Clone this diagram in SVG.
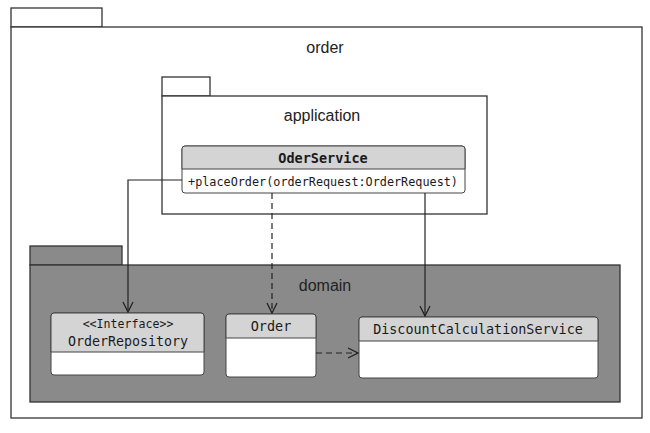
<svg xmlns="http://www.w3.org/2000/svg" width="650" height="433" viewBox="0 0 650 433">
<style>
.pkg{fill:#fff;stroke:#333;stroke-width:1.3}
.dom{fill:#8a8a8a;stroke:#333;stroke-width:1.3}
.lbl{font-family:"Liberation Sans",Arial,sans-serif;font-size:16px;fill:#222;text-anchor:middle}
.cls{fill:#fff;stroke:#444;stroke-width:1}
.hdr{fill:#d4d4d4;stroke:#444;stroke-width:1}
.mono{font-family:"DejaVu Sans Mono","Liberation Mono",monospace;fill:#1a1a1a;text-anchor:middle}
.ln{fill:none;stroke:#222;stroke-width:1.2}
.dash{stroke-dasharray:6,4}
</style>
<defs>
<marker id="open" viewBox="0 0 12 12" refX="11" refY="6" markerWidth="12" markerHeight="12" markerUnits="userSpaceOnUse" orient="auto">
<path d="M1,1 L11,6 L1,11" fill="none" stroke="#222" stroke-width="1.3"/>
</marker>
</defs>
<rect width="650" height="433" fill="#fff"/>
<g id="pkg-order">
<rect class="pkg" x="11" y="8" width="91" height="19"/>
<rect class="pkg" x="11" y="27" width="631" height="391"/>
<text class="lbl" x="325" y="53">order</text>
</g>
<g id="pkg-application">
<rect class="pkg" x="162" y="77" width="48" height="19"/>
<rect class="pkg" x="162" y="96" width="325" height="118"/>
<text class="lbl" x="322" y="121">application</text>
</g>
<g id="pkg-domain">
<rect class="dom" x="30" y="246" width="92" height="19"/>
<rect class="dom" x="30" y="265" width="590" height="137"/>
<text class="lbl" x="325" y="291">domain</text>
</g>
<g id="OderService">
<rect class="cls" x="182" y="146" width="283" height="47" rx="3"/>
<path class="hdr" d="M182,169 V149 a3,3 0 0 1 3,-3 H462 a3,3 0 0 1 3,3 V169 Z"/>
<text class="mono" x="323" y="163" font-size="13.5" font-weight="bold">OderService</text>
<text class="mono" x="323" y="186" font-size="11.8">+placeOrder(orderRequest:OrderRequest)</text>
</g>
<g id="OrderRepository">
<rect class="cls" x="51" y="313" width="153" height="62" rx="3"/>
<path class="hdr" d="M51,352 V316 a3,3 0 0 1 3,-3 H201 a3,3 0 0 1 3,3 V352 Z"/>
<text class="mono" x="128" y="328" font-size="11.6">&lt;&lt;Interface&gt;&gt;</text>
<text class="mono" x="128" y="346" font-size="13.3">OrderRepository</text>
</g>
<g id="Order">
<rect class="cls" x="226" y="314" width="90" height="63" rx="3"/>
<path class="hdr" d="M226,338 V317 a3,3 0 0 1 3,-3 H313 a3,3 0 0 1 3,3 V338 Z"/>
<text class="mono" x="271" y="331" font-size="13.5">Order</text>
</g>
<g id="DiscountCalculationService">
<rect class="cls" x="359" y="317" width="239" height="61" rx="3"/>
<path class="hdr" d="M359,341 V320 a3,3 0 0 1 3,-3 H595 a3,3 0 0 1 3,3 V341 Z"/>
<text class="mono" x="478" y="334" font-size="13.4">DiscountCalculationService</text>
</g>
<g id="connectors">
<path class="ln" d="M182,180 H128 V312" marker-end="url(#open)"/>
<path class="ln dash" d="M272,193 V313" marker-end="url(#open)"/>
<path class="ln" d="M425,193 V316" marker-end="url(#open)"/>
<path class="ln dash" d="M316,353 H358" marker-end="url(#open)"/>
</g>
</svg>
